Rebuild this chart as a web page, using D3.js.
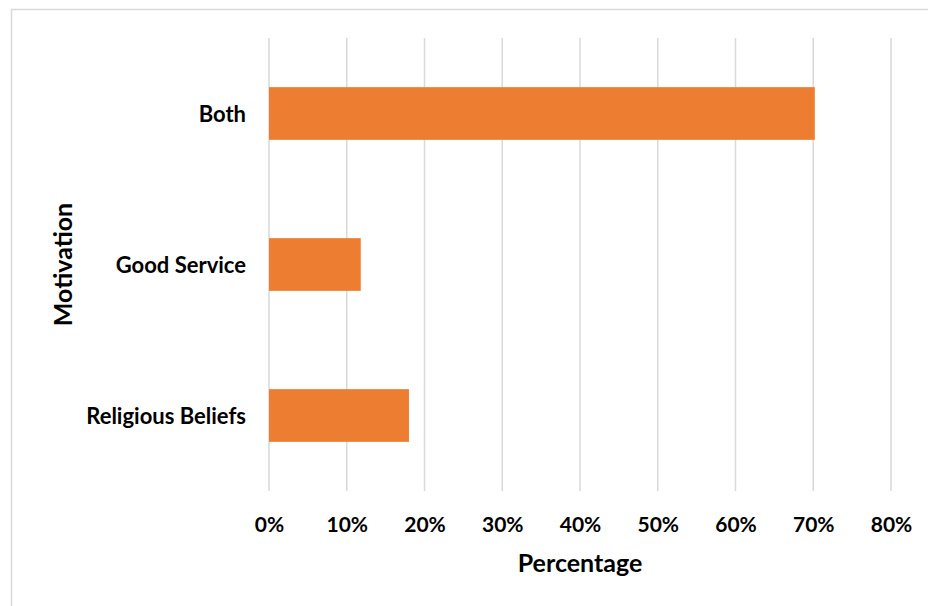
<!DOCTYPE html>
<html><head><meta charset="utf-8">
<script src="https://cdn.jsdelivr.net/npm/d3@7"></script>
<style>body{margin:0;background:#fff}svg{display:block}</style>
</head><body>
<script>
const categories = ["Both", "Good Service", "Religious Beliefs"];
const values = [70.2, 11.8, 18.0];
const tickValues = [0, 10, 20, 30, 40, 50, 60, 70, 80];
const xTitle = "Percentage";
const yTitle = "Motivation";

const W = 928, H = 606;
const m = {left: 269, right: 37, top: 38, bottom: 115};
const font = "Lato, 'Open Sans', sans-serif";

const svg = d3.select("body").append("svg").attr("width", W).attr("height", H);
svg.append("rect").attr("x", 11.5).attr("y", 9.5).attr("width", W + 10).attr("height", H + 10)
  .attr("fill", "#fff").attr("stroke", "#d9d9d9").attr("stroke-width", 1.5);

const x = d3.scaleLinear().domain([0, 80]).range([m.left, W - m.right]);
const y = d3.scaleBand().domain(categories).range([m.top, H - m.bottom])
  .paddingInner(0.651).paddingOuter(0.3255);

svg.append("g").selectAll("line").data(tickValues).join("line")
  .attr("x1", d => x(d)).attr("x2", d => x(d))
  .attr("y1", m.top).attr("y2", H - m.bottom)
  .attr("stroke", "#d9d9d9").attr("stroke-width", 1.5);

svg.append("g").selectAll("rect").data(categories).join("rect")
  .attr("x", x(0)).attr("y", d => y(d))
  .attr("width", (d, i) => x(values[i]) - x(0))
  .attr("height", y.bandwidth())
  .attr("fill", "#ED7D31");

const xAxis = svg.append("g").attr("transform", `translate(0,${H - m.bottom})`)
  .call(d3.axisBottom(x).tickValues(tickValues).tickFormat(d => d + "%").tickSize(0).tickPadding(32));
xAxis.select(".domain").remove();
xAxis.selectAll("text").attr("dy", null).attr("dominant-baseline", "central")
  .attr("font-family", font).attr("font-weight", "bold")
  .attr("font-size", 21).attr("fill", "#000");

const yAxis = svg.append("g").attr("transform", `translate(${x(0)},0)`)
  .call(d3.axisLeft(y).tickSize(0).tickPadding(23));
yAxis.select(".domain").remove();
yAxis.selectAll("text").attr("dy", null).attr("dominant-baseline", "central")
  .attr("font-family", font).attr("font-weight", "bold")
  .attr("font-size", 22).attr("fill", "#000");

svg.append("text").attr("x", (x(0) + x(80)) / 2).attr("y", 562)
  .attr("text-anchor", "middle").attr("dominant-baseline", "central")
  .attr("font-family", font).attr("font-weight", "bold").attr("font-size", 25)
  .attr("fill", "#000").text(xTitle);

svg.append("text").attr("transform", `translate(62,${(m.top + H - m.bottom) / 2}) rotate(-90)`)
  .attr("text-anchor", "middle").attr("dominant-baseline", "central")
  .attr("font-family", font).attr("font-weight", "bold").attr("font-size", 25)
  .attr("fill", "#000").text(yTitle);
</script>
</body></html>
